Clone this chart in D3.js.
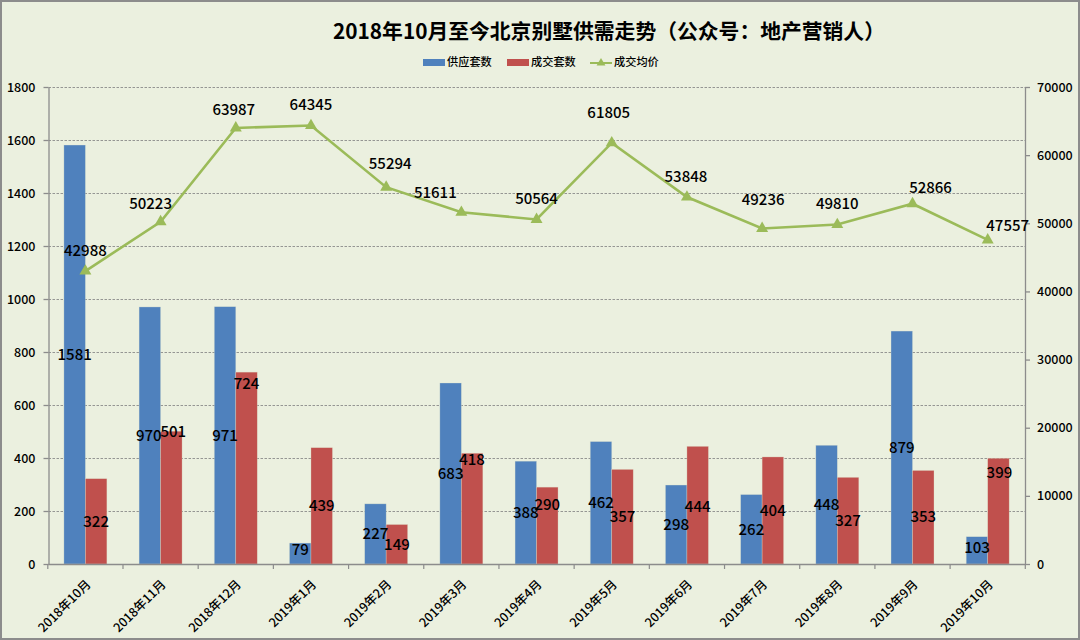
<!DOCTYPE html>
<html><head><meta charset="utf-8">
<script src="https://cdn.jsdelivr.net/npm/d3@7/dist/d3.min.js"></script>
<style>
html,body{margin:0;padding:0;background:#ebf0df;}
svg{display:block;}
text{font-family:"Noto Sans CJK SC","Noto Sans",sans-serif;fill:#000;}
</style></head><body>
<svg id="c" width="1080" height="640"></svg>
<script>
const categories=["2018年10月","2018年11月","2018年12月","2019年1月","2019年2月","2019年3月","2019年4月","2019年5月","2019年6月","2019年7月","2019年8月","2019年9月","2019年10月"];
const supply=[1581,970,971,79,227,683,388,462,298,262,448,879,103];
const deals=[322,501,724,439,149,418,290,357,444,404,327,353,399];
const avgPrice=[42988,50223,63987,64345,55294,51611,50564,61805,53848,49236,49810,52866,47557];
const leftTicks=[0,200,400,600,800,1000,1200,1400,1600,1800];
const rightTicks=[0,10000,20000,30000,40000,50000,60000,70000];
const seriesNames=["供应套数","成交套数","成交均价"];
const titleText="2018年10月至今北京别墅供需走势（公众号：地产营销人）";

const W=1080,H=640,m={l:48.5,r:1025,t:87,b:564};
const BLUE="#4f81bd",RED="#c0504d",GREEN="#9bbb59",AXIS="#8c8c8c";
const svg=d3.select("#c");
svg.append("rect").attr("x",1).attr("y",1).attr("width",W-2).attr("height",H-2)
  .attr("fill","#ebf0df").attr("stroke",AXIS).attr("stroke-width",2);

const x=d3.scaleBand().domain(categories).range([47.8,1025.3]);
const barW=x.bandwidth()/3.5;
const yL=d3.scaleLinear().domain([0,1800]).range([m.b,m.t]);
const yR=d3.scaleLinear().domain([0,70000]).range([m.b,m.t]);
const cx=c=>x(c)+x.bandwidth()/2;

// gridlines
svg.append("g").selectAll("line").data(leftTicks.slice(1)).join("line")
  .attr("x1",m.l).attr("x2",m.r).attr("y1",d=>Math.round(yL(d))+.5).attr("y2",d=>Math.round(yL(d))+.5)
  .attr("stroke","#7f7f7f").attr("stroke-width",.8).attr("stroke-dasharray","2.5 1.5");

// bars
const barG=svg.append("g");
[[supply,BLUE,-1],[deals,RED,0]].forEach(([vals,col,o])=>{
  barG.selectAll(null).data(vals).join("rect")
    .attr("x",(d,i)=>cx(categories[i])+o*barW).attr("width",barW)
    .attr("y",d=>yL(d)).attr("height",d=>m.b-yL(d))
    .attr("fill",col).attr("stroke","#dfe6d0").attr("stroke-opacity",.5).attr("stroke-width",.6);
});

// axes
function styleAxis(g){
  g.selectAll("path,line").attr("stroke",AXIS).attr("stroke-width",1.3);
  g.selectAll("text").attr("font-size",12.5).attr("font-weight",500).attr("fill","#000");
}
const gL=svg.append("g").attr("transform",`translate(${m.l},0)`)
  .call(d3.axisLeft(yL).tickValues(leftTicks).tickSize(5).tickSizeOuter(0).tickPadding(8).tickFormat(d3.format("d")));
styleAxis(gL);
const gR=svg.append("g").attr("transform",`translate(${m.r},0)`)
  .call(d3.axisRight(yR).tickValues(rightTicks).tickSize(5).tickSizeOuter(0).tickPadding(7).tickFormat(d3.format("d")));
styleAxis(gR);
const gX=svg.append("g").attr("transform",`translate(0,${m.b})`)
  .call(d3.axisBottom(x).tickSize(0).tickSizeOuter(0).tickFormat(""));
styleAxis(gX);
gX.selectAll(".sep").data(categories.concat([null])).join("line").attr("class","sep")
  .attr("x1",(d,i)=>x.range()[0]+i*x.step()).attr("x2",(d,i)=>x.range()[0]+i*x.step()).attr("y1",0).attr("y2",5)
  .attr("stroke",AXIS).attr("stroke-width",1.2);
svg.append("g").selectAll("text").data(categories).join("text")
  .attr("text-anchor","end").attr("font-size",12.5).attr("font-weight",500)
  .attr("transform",c=>`translate(${cx(c)+3},${m.b+18}) rotate(-45)`).attr("dy","0.35em").text(c=>c);

// line
const line=d3.line().x((d,i)=>cx(categories[i])).y(d=>yR(d));
svg.append("path").attr("d",line(avgPrice)).attr("fill","none").attr("stroke",GREEN).attr("stroke-width",2.6);
const tri=d3.symbol().type(d3.symbolTriangle).size(62);
svg.append("g").selectAll("path").data(avgPrice).join("path")
  .attr("d",tri).attr("fill",GREEN)
  .attr("transform",(d,i)=>`translate(${cx(categories[i])},${yR(d)})`);

// data labels: hand-dragged in the original, so nudges live here with the drawing code
const labelFont={size:15,weight:500};
const priceNudge=[[0,-20],[-10,-18],[-2,-18],[0,-21],[4,-23],[-26,-20],[0,-21],[-3,-30],[-1,-20],[1,-29],[0,-21],[18,-16],[20,-14]];
const dealNudge={1:[2,-66],2:[0,-84],5:[0,-49],6:[0,-21],8:[0,2],12:[1,-38]};
const supNudge={1:[-1,0],3:[0,-4],12:[0,-3]};
const lab=svg.append("g").attr("font-size",labelFont.size).attr("font-weight",labelFont.weight).attr("text-anchor","middle");
lab.selectAll(null).data(avgPrice).join("text")
  .attr("x",(d,i)=>cx(categories[i])+priceNudge[i][0]).attr("y",(d,i)=>yR(d)+priceNudge[i][1])
  .attr("dy","0.35em").text(d=>d);
lab.selectAll(null).data(supply).join("text")
  .attr("x",(d,i)=>cx(categories[i])-barW/2+(supNudge[i]||[0,0])[0]).attr("y",(d,i)=>(yL(d)+m.b)/2+(supNudge[i]||[0,0])[1])
  .attr("dy","0.35em").text(d=>d);
lab.selectAll(null).data(deals).join("text")
  .attr("x",(d,i)=>cx(categories[i])+barW/2+(dealNudge[i]||[0,0])[0]).attr("y",(d,i)=>(yL(d)+m.b)/2+(dealNudge[i]||[0,0])[1])
  .attr("dy","0.35em").text(d=>d);

// title
svg.append("text").attr("x",609).attr("y",31.5).attr("text-anchor","middle").attr("dy","0.35em")
  .attr("font-size",20.8).attr("font-weight",700).text(titleText);

// legend
const leg=svg.append("g");
const legX=[423,507,590];
seriesNames.forEach((n,i)=>{
  if(i<2){leg.append("rect").attr("x",legX[i]).attr("y",59).attr("width",22).attr("height",7).attr("fill",i==0?BLUE:RED);}
  else{
    leg.append("line").attr("x1",legX[i]).attr("x2",legX[i]+22).attr("y1",63).attr("y2",63).attr("stroke",GREEN).attr("stroke-width",2);
    leg.append("path").attr("d",d3.symbol().type(d3.symbolTriangle).size(34)).attr("fill",GREEN).attr("transform",`translate(${legX[i]+11},63)`);
  }
  leg.append("text").attr("x",legX[i]+24).attr("y",62.5).attr("dy","0.35em").attr("font-size",11.2).attr("font-weight",500).text(n);
});
</script></body></html>
